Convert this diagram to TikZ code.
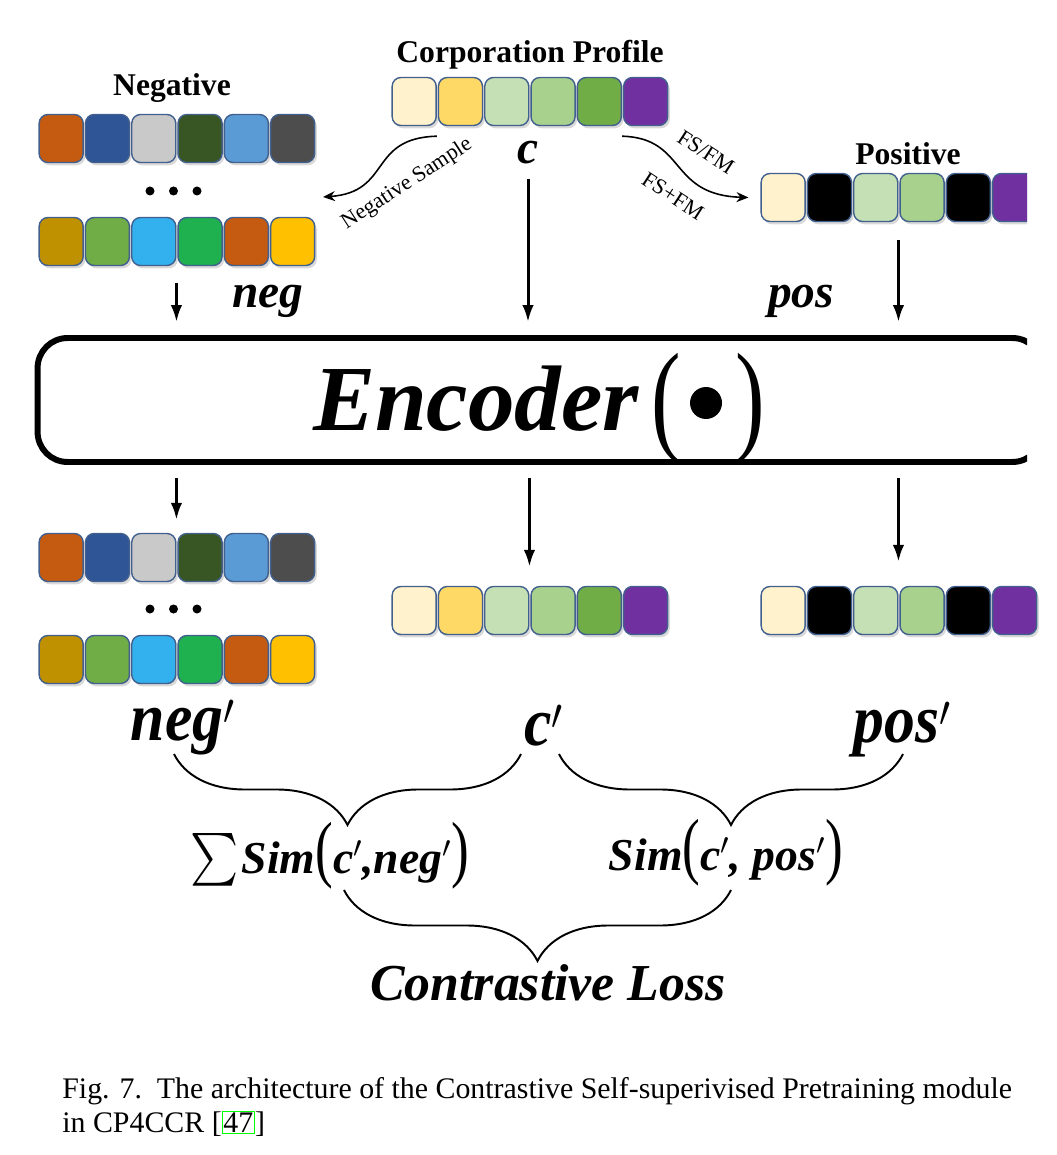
\documentclass[tikz,border=0pt]{standalone}
\usepackage{fontspec}
\setmainfont{Liberation Serif}
\usepackage{tikz}
\usetikzlibrary{arrows.meta,positioning,calc,shadows,decorations.pathreplacing}
\definecolor{cream}{HTML}{FFF2CC}
\definecolor{butter}{HTML}{FFD966}
\definecolor{mint}{HTML}{C5E0B4}
\definecolor{sage}{HTML}{A9D18E}
\definecolor{leaf}{HTML}{70AD47}
\definecolor{plum}{HTML}{7030A0}
\definecolor{rust}{HTML}{C55A11}
\definecolor{navy}{HTML}{2F5597}
\definecolor{silver}{HTML}{C9C9C9}
\definecolor{forest}{HTML}{375623}
\definecolor{sky}{HTML}{5B9BD5}
\definecolor{slate}{HTML}{4D4D4D}
\definecolor{ochre}{HTML}{BF9000}
\definecolor{azure}{HTML}{33B0EE}
\definecolor{emerald}{HTML}{1FB050}
\definecolor{amber}{HTML}{FFC000}
\definecolor{edge}{HTML}{41608E}
\definecolor{linkgreen}{HTML}{00FF00}
\newcommand{\bif}[1]{\fontsize{#1}{#1}\selectfont\bfseries\itshape}
\newcommand{\tallpar}[2]{\scalebox{.72}[1]{\fontsize{#1}{#1}\selectfont\mdseries\upshape #2}}
\tikzset{
  cell/.style={draw=edge,line width=.8pt,rounded corners=5pt,minimum width=.88cm,minimum height=.96cm,inner sep=0pt,
    drop shadow={opacity=.3,shadow xshift=1.2pt,shadow yshift=-1.6pt}},
  hdr/.style={font=\bfseries\fontsize{18}{20}\selectfont,inner sep=0pt,anchor=base},
  lab/.style={inner sep=0pt,anchor=base},
  arr/.style={-{Latex[length=3.4mm,width=2.3mm]},line width=1.7pt},
  curvearr/.style={-{Stealth[length=2.4mm,width=2mm]},line width=.9pt},
  tiny/.style={font=\fontsize{12.5}{13}\selectfont,inner sep=0pt},
  brc/.style={decorate,decoration={brace,mirror,amplitude=1.42cm},line width=1.1pt}
}
% one row of six coloured cells
\newcommand{\cellrow}[4]{%
  \foreach \col [count=\i] in {#4}
    \node[cell,fill=\col] (#1-\i) at ({#2+(\i-.5)*46.3},{#3+24.5}) {};}

\begin{document}
\begin{tikzpicture}[x=.02cm,y=-.02cm]
  \useasboundingbox (0,0) rectangle (1057,1155);
  % inputs
  \node[hdr] (cphead) at (530,63) {Corporation Profile};
  \node[hdr] (neghead) at (172,96) {Negative};
  \node[hdr] (poshead) at (908,165) {Positive};
  \cellrow{crow}{391}{77}{cream,butter,mint,sage,leaf,plum}
  \cellrow{neg1}{38}{114}{rust,navy,silver,forest,sky,slate}
  \cellrow{neg2}{38}{217}{ochre,leaf,azure,emerald,rust,amber}
  \foreach \d in {150,173.5,197} {\fill (\d,191) circle (4.5);}
  \node[lab] (clab) at (528,164) {\bif{27}c};
  \node[lab] (neglab) at (268,307) {\bif{27}neg};
  \node[lab] (poslab) at (801,308) {\bif{27}pos};
  % augmentation
  \coordinate (nsstart) at ($(crow-1.south east)+(0,10)$);
  \coordinate (nsend) at (323,197);
  \coordinate (fsstart) at ($(crow-5.south east)+(0,10)$);
  \draw[curvearr] (nsstart) .. controls (368,138) and (392,192) .. (nsend);
  \node[tiny,rotate=33] (nslab) at (407,184) {Negative Sample};
  \node[tiny,rotate=-33] (fslab) at (706,152) {FS/FM};
  \node[tiny,rotate=-33] (fplab) at (673,196) {FS+FM};
  % encoder
  \begin{scope}
    \clip (0,0) rectangle (1027,470);
    \cellrow{pos}{760}{173}{cream,black,mint,sage,black,plum}
    \node[draw,line width=3.4pt,rounded corners=.6cm,minimum width=20.1cm,minimum height=2.48cm,inner sep=0pt] (enc) at (540,400) {};
  \end{scope}
  \draw[curvearr] (fsstart) .. controls (687,138) and (668,195) .. ($(pos-1.west)+(-12,0)$);
  \node[lab] (enctxt) at (476,430) {\bif{53}Encoder};
  \node[lab] (encl) at (666,438) {\tallpar{70}{(}};
  \node[lab] (encr) at (750,438) {\tallpar{70}{)}};
  \node[circle,fill,minimum size=.64cm,inner sep=0pt] (encdot) at (706,403) {};
  \draw[arr,shorten <=.34cm,shorten >=.26cm] (neg2-3.south east) -- (neg2-3.south east |- enc.north);
  \draw[arr,shorten <=.28cm,shorten >=.26cm] (clab.south) -- (clab.south |- enc.north);
  \draw[arr,shorten <=.36cm,shorten >=.26cm] (pos-3.south east) -- (pos-3.south east |- enc.north);
  % outputs
  \cellrow{negq1}{38}{533}{rust,navy,silver,forest,sky,slate}
  \cellrow{negq2}{38}{635}{ochre,leaf,azure,emerald,rust,amber}
  \foreach \d in {150,173.5,197} {\fill (\d,609) circle (4.5);}
  \cellrow{cq}{391}{586}{cream,butter,mint,sage,leaf,plum}
  \cellrow{posq}{760}{586}{cream,black,mint,sage,black,plum}
  \draw[arr,shorten <=.26cm,shorten >=.26cm] (enc.south -| negq1-3.north east) -- (negq1-3.north east);
  \draw[arr,shorten <=.26cm,shorten >=.38cm] (enc.south -| cq-3.north east) -- (cq-3.north east);
  \draw[arr,shorten <=.26cm,shorten >=.48cm] (enc.south -| posq-3.north east) -- (posq-3.north east);
  \node[lab] (negqlab) at (183,740) {\scalebox{.9}[1]{\bif{39}neg$'$}};
  \node[lab] (cqlab) at (544,745) {\scalebox{.9}[1]{\bif{39}c$'$}};
  \node[lab] (posqlab) at (902,742) {\scalebox{.9}[1]{\bif{39}pos$'$}};
  % loss
  \draw[brc] (174,754) -- (521,754);
  \draw[brc] (559,754) -- (903,754);
  \node[lab] (negsim) at (330,873) {\scalebox{2.6}[3]{$\sum$}\,{\bif{26}Sim}\tallpar{42}{(}{\bif{26}c$'$,neg$'$}\tallpar{42}{)}};
  \node[lab] (possim) at (726,870) {{\bif{26}Sim}\tallpar{42}{(}{\bif{26}c$'$, pos$'$}\tallpar{42}{)}};
  \draw[brc] (344,890) -- (731,890);
  \node[lab] (loss) at (548,1000) {\bif{29.5}Contrastive Loss};
  % caption
  \node[lab,anchor=base west] (cap1) at (62,1098) {\fontsize{17}{19}\selectfont Fig. 7.\ \ The architecture of the Contrastive Self-superivised Pretraining module};
  \node[lab,anchor=base west] (cap2) at (62,1132) {\fontsize{17}{19}\selectfont in CP4CCR [{\fboxsep=.5pt\fboxrule=.5pt\color{linkgreen}\fbox{\color{black}47}}]};
\end{tikzpicture}
\end{document}
